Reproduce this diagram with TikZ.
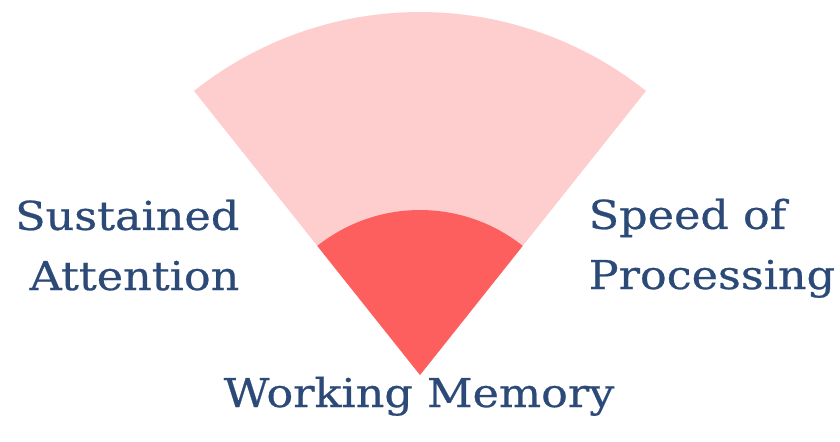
\documentclass[tikz,border=0pt]{standalone}
\usepackage{fontspec}
\setmainfont{DejaVu Serif}[FakeStretch=1.12,FakeBold=0.6]
\usepackage{tikz}

\definecolor{fanlight}{HTML}{FECDCD}
\definecolor{fandark}{HTML}{FD5E5E}
\definecolor{labelblue}{HTML}{2C4A78}

\tikzset{
  label text/.style={text=labelblue, inner sep=0pt, font=\fontsize{11.3}{17.1}\selectfont}
}

\begin{document}
\begin{tikzpicture}[x=0.01cm,y=0.01cm]
\useasboundingbox (0,0) rectangle (840,441);
\coordinate (apex) at (420,66);
%outer and inner sector
\fill[fanlight] (apex) -- ++(51.5:363) arc (51.5:128.5:363) -- cycle;
\fill[fandark] (apex) -- ++(51.5:165) arc (51.5:128.5:165) -- cycle;

\node[label text, align=right, anchor=base east] (attention) at (240,151) {Sustained\\Attention};
\node[label text, align=left, anchor=base west] (speed) at (588,152) {Speed of\\Processing};
\node[label text, anchor=base] (memory) at (419,34) {Working Memory};
\end{tikzpicture}
\end{document}
